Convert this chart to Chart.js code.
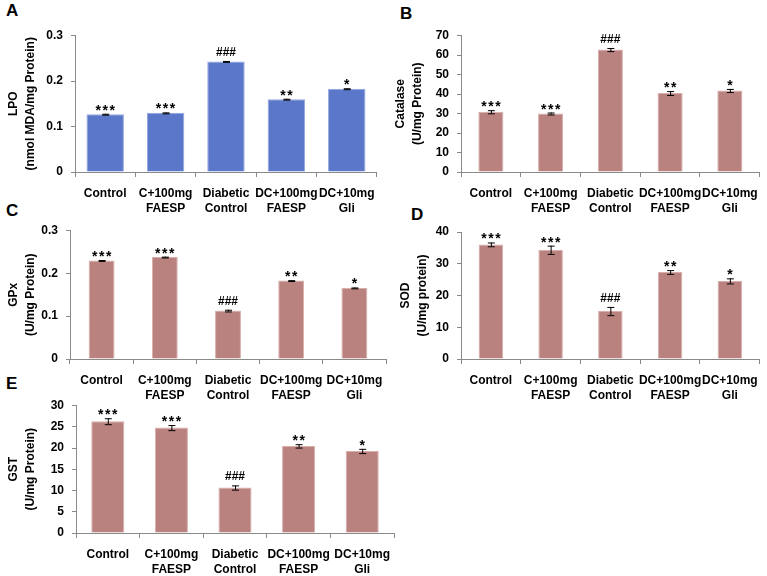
<!DOCTYPE html>
<html>
<head>
<meta charset="utf-8">
<script src="https://cdn.jsdelivr.net/npm/chart.js@4.4.0/dist/chart.umd.min.js"></script>
<style>
body{margin:0;background:#fff;}
#wrap{position:relative;width:767px;height:576px;overflow:hidden;background:#fff;}
canvas{position:absolute;}
.lbl{position:absolute;font:bold 17px "Liberation Sans",Arial,sans-serif;color:#000;}
</style>
</head>
<body>
<div id="wrap">
  <div class="lbl" style="left:6px;top:1px">A</div>
  <div class="lbl" style="left:400px;top:4px">B</div>
  <div class="lbl" style="left:6px;top:201px">C</div>
  <div class="lbl" style="left:411px;top:205px">D</div>
  <div class="lbl" style="left:6px;top:374px">E</div>
  <canvas id="chartA"></canvas>
  <canvas id="chartB"></canvas>
  <canvas id="chartC"></canvas>
  <canvas id="chartD"></canvas>
  <canvas id="chartE"></canvas>
</div>
<script>
// groups on the x axis (two-line labels)
var groups = [["Control"], ["C+100mg", "FAESP"], ["Diabetic", "Control"], ["DC+100mg", "FAESP"], ["DC+10mg", "Gli"]];
var signif = ["***", "***", "###", "**", "*"];

// A - LPO
var lpoMean = [0.127, 0.130, 0.243, 0.160, 0.183];
var lpoSem = [0.001, 0.001, 0.001, 0.001, 0.001];
// B - Catalase
var catMean = [30.9, 30.0, 62.8, 40.5, 41.8];
var catSem = [0.8, 0.5, 0.8, 1.0, 0.8];
// C - GPx
var gpxMean = [0.230, 0.238, 0.113, 0.183, 0.166];
var gpxSem = [0.001, 0.001, 0.002, 0.001, 0.001];
// D - SOD
var sodMean = [36.1, 34.4, 15.1, 27.4, 24.6];
var sodSem = [0.6, 1.3, 1.3, 0.6, 0.8];
// E - GST
var gstMean = [26.3, 24.8, 10.7, 20.5, 19.3];
var gstSem = [0.7, 0.6, 0.5, 0.4, 0.5];

var blue = "#5A77C9", blueEdge = "#93A6DE";
var rose = "#B9827F", roseEdge = "#D8AEAB";

// draws the error bars and the significance marks
var errPlugin = {
  id: "errbars",
  afterDatasetsDraw: function(chart) {
    var ctx = chart.ctx;
    var meta = chart.getDatasetMeta(0);
    var ys = chart.scales.y;
    var ds = chart.data.datasets[0];
    ctx.save();
    for (var i = 0; i < meta.data.length; i++) {
      var x = meta.data[i].x;
      var top = ys.getPixelForValue(ds.data[i] + ds.sem[i]);
      var bot = ys.getPixelForValue(ds.data[i] - ds.sem[i]);
      ctx.strokeStyle = "#000";
      ctx.lineWidth = 1;
      ctx.beginPath();
      ctx.moveTo(x + 0.5, top); ctx.lineTo(x + 0.5, bot);
      ctx.moveTo(x - 3, top + 0.5); ctx.lineTo(x + 4, top + 0.5);
      ctx.moveTo(x - 3, bot + 0.5); ctx.lineTo(x + 4, bot + 0.5);
      ctx.stroke();
      var s = ds.marks[i];
      ctx.fillStyle = "#000";
      ctx.textAlign = "center";
      ctx.textBaseline = "alphabetic";
      if (s.charAt(0) == "*") {
        ctx.font = "bold 14px 'Liberation Sans', Arial, sans-serif";
        var w = 7;
        for (var k = 0; k < s.length; k++) {
          ctx.fillText("*", x + (k - (s.length - 1) / 2) * w, top + 1);
        }
      } else {
        ctx.font = "bold 12px 'Liberation Sans', Arial, sans-serif";
        ctx.fillText(s, x, top - 5);
      }
    }
    ctx.restore();
  }
};

function makePanel(id, p) {
  var cv = document.getElementById(id);
  cv.width = p.box.w; cv.height = p.box.h;
  cv.style.left = p.box.l + "px"; cv.style.top = p.box.t + "px";
  cv.style.width = p.box.w + "px"; cv.style.height = p.box.h + "px";
  var tickFont = {family: "'Liberation Sans', Arial, sans-serif", size: 12, weight: "bold", lineHeight: 1.25};
  return new Chart(cv.getContext("2d"), {
    type: "bar",
    data: {
      labels: groups,
      datasets: [{
        data: p.mean,
        sem: p.sem,
        marks: signif,
        backgroundColor: p.color,
        borderColor: p.edge,
        borderWidth: 1,
        barPercentage: p.barPct,
        categoryPercentage: 1
      }]
    },
    options: {
      responsive: false,
      animation: false,
      devicePixelRatio: 1,
      layout: {padding: {top: p.plot.t - p.box.t, right: p.box.l + p.box.w - p.plot.r, left: 0, bottom: 0}},
      plugins: {legend: {display: false}, tooltip: {enabled: false}},
      scales: {
        x: {
          grid: {display: true, drawOnChartArea: false, drawTicks: true, tickLength: 5, color: "#8a8a8a", offset: true},
          border: {display: true, color: "#8a8a8a", width: 1},
          ticks: {font: tickFont, color: "#000", padding: 9, maxRotation: 0, autoSkip: false},
          afterFit: function(s) { s.height = p.box.t + p.box.h - p.plot.b; }
        },
        y: {
          min: 0, max: p.yMax,
          grid: {display: true, drawOnChartArea: false, drawTicks: true, tickLength: 4, color: "#8a8a8a"},
          border: {display: true, color: "#8a8a8a", width: 1},
          ticks: {stepSize: p.yStep, font: tickFont, color: "#000", padding: 8,
            callback: function(v) { return p.yStep < 1 ? (v === 0 ? "0" : v.toFixed(1)) : v; }},
          title: {display: true, text: p.yTitle, color: "#000",
            font: {family: "'Liberation Sans', Arial, sans-serif", size: 12, weight: "bold", lineHeight: 1.4},
            padding: {top: p.titlePad, bottom: 0}},
          afterFit: function(s) { s.width = p.plot.l - p.box.l; }
        }
      }
    },
    plugins: [errPlugin]
  });
}

makePanel("chartA", {mean: lpoMean, sem: lpoSem, yTitle: ["LPO", "(nmol MDA/mg Protein)"], yMax: 0.3, yStep: 0.1,
  color: blue, edge: blueEdge, barPct: 0.62, titlePad: 5,
  box: {l: 0, t: 20, w: 384, h: 200}, plot: {l: 75, t: 29, r: 380, b: 172}});
makePanel("chartB", {mean: catMean, sem: catSem, yTitle: ["Catalase", "(U/mg Protein)"], yMax: 70, yStep: 10,
  color: rose, edge: roseEdge, barPct: 0.42, titlePad: 8,
  box: {l: 384, t: 20, w: 383, h: 200}, plot: {l: 461, t: 33, r: 764, b: 172}});
makePanel("chartC", {mean: gpxMean, sem: gpxSem, yTitle: ["GPx", "(U/mg Protein)"], yMax: 0.3, yStep: 0.1,
  color: rose, edge: roseEdge, barPct: 0.41, titlePad: 5,
  box: {l: 0, t: 215, w: 400, h: 200}, plot: {l: 70, t: 226, r: 386, b: 359}});
makePanel("chartD", {mean: sodMean, sem: sodSem, yTitle: ["SOD", "(U/mg protein)"], yMax: 40, yStep: 10,
  color: rose, edge: roseEdge, barPct: 0.41, titlePad: 13,
  box: {l: 384, t: 215, w: 383, h: 200}, plot: {l: 461, t: 232, r: 764, b: 359}});
makePanel("chartE", {mean: gstMean, sem: gstSem, yTitle: ["GST", "(U/mg Protein)"], yMax: 30, yStep: 5,
  color: rose, edge: roseEdge, barPct: 0.52, titlePad: 5,
  box: {l: 0, t: 390, w: 400, h: 186}, plot: {l: 76, t: 400, r: 394, b: 533}});
</script>
</body>
</html>
